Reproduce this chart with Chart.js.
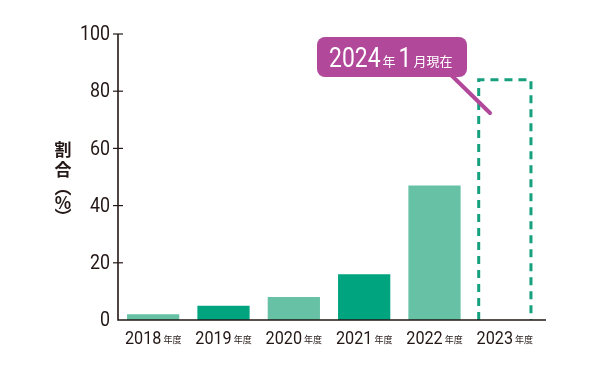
<!DOCTYPE html>
<html>
<head>
<meta charset="utf-8">
<script src="https://cdn.jsdelivr.net/npm/chart.js@4"></script>
<style>
  html, body { margin: 0; padding: 0; background: #fff; }
  #wrap { width: 600px; height: 371px; }
</style>
</head>
<body>
<div id="wrap"><canvas id="chart" width="600" height="371"></canvas></div>
<script>
const years = ['2018', '2019', '2020', '2021', '2022', '2023'];
const yearSuffix = '年度';
const shares = [2, 5, 8, 16, 47, 84];
const yTicks = [0, 20, 40, 60, 80, 100];
const yTitle = ['割', '合', '︵', '%', '︶'];
const note = [['2024', 'big'], ['年', 'small'], ['1', 'big'], ['月現在', 'small']];

const LIGHT = '#67c2a5';
const DARK = '#00a580';
const DASH = '#16a07e';
const INK = '#231815';
const MAGENTA = '#b1489a';
const numFont = "Roboto, sans-serif";

const barColors = shares.map((v, i) => i === shares.length - 1 ? 'rgba(0,0,0,0)' : (i % 2 === 0 ? LIGHT : DARK));

// draw text squeezed horizontally so it looks like the condensed face in the original
function narrowText(ctx, txt, x, y, sx) {
    ctx.save();
    ctx.translate(x, y);
    ctx.scale(sx, 1);
    ctx.fillText(txt, 0, 0);
    ctx.restore();
}

const decorations = {
    id: 'decorations',
    afterDatasetsDraw(chart) {
        const ctx = chart.ctx;
        const x = chart.scales.x;
        const y = chart.scales.y;
        const area = chart.chartArea;
        ctx.save();

        // dashed outline for the last (pending) year
        const meta = chart.getDatasetMeta(0);
        const last = meta.data[meta.data.length - 1];
        const half = last.width / 2;
        ctx.strokeStyle = DASH;
        ctx.lineWidth = 3;
        ctx.setLineDash([8, 6]);
        ctx.beginPath();
        ctx.moveTo(last.x - half, last.base);
        ctx.lineTo(last.x - half, last.y);
        ctx.lineTo(last.x + half, last.y);
        ctx.lineTo(last.x + half, last.base);
        ctx.stroke();
        ctx.setLineDash([]);

        // axes
        ctx.strokeStyle = INK;
        ctx.lineWidth = 1.6;
        ctx.beginPath();
        ctx.moveTo(area.left, y.getPixelForValue(100));
        ctx.lineTo(area.left, area.bottom);
        ctx.lineTo(area.right + 6, area.bottom);
        ctx.stroke();
        ctx.lineWidth = 1.2;
        ctx.fillStyle = INK;
        ctx.textBaseline = 'middle';
        yTicks.forEach(t => {
            const py = y.getPixelForValue(t);
            if (t !== 0) {
                ctx.beginPath();
                ctx.moveTo(area.left - 5, py);
                ctx.lineTo(area.left + 5, py);
                ctx.stroke();
            }
            ctx.font = '21px ' + numFont;
            const w = ctx.measureText(String(t)).width * 0.85;
            narrowText(ctx, String(t), area.left - 8 - w, py + 1, 0.85);
        });

        // x labels with small suffix
        ctx.textBaseline = 'alphabetic';
        years.forEach((yr, i) => {
            ctx.font = '18px ' + numFont;
            const w1 = ctx.measureText(yr).width * 0.9;
            ctx.font = "9px 'Noto Sans CJK JP', sans-serif";
            const w2 = ctx.measureText(yearSuffix).width;
            const cx = x.getPixelForValue(i);
            const start = cx - (w1 + 2 + w2) / 2;
            ctx.font = '18px ' + numFont;
            narrowText(ctx, yr, start, 344, 0.9);
            ctx.font = "9px 'Noto Sans CJK JP', sans-serif";
            ctx.fillText(yearSuffix, start + w1 + 2, 343);
        });

        // vertical y title
        ctx.font = "bold 17px 'Noto Sans CJK JP', sans-serif";
        ctx.textAlign = 'center';
        ctx.textBaseline = 'middle';
        const ys = [150, 170, 188, 203, 217];
        yTitle.forEach((ch, i) => ctx.fillText(ch, 63, ys[i]));

        // callout
        ctx.strokeStyle = MAGENTA;
        ctx.lineWidth = 4;
        ctx.lineCap = 'round';
        ctx.beginPath();
        ctx.moveTo(448, 72);
        ctx.lineTo(490, 113);
        ctx.stroke();
        ctx.fillStyle = MAGENTA;
        ctx.beginPath();
        ctx.roundRect(317, 37, 150, 40, 8);
        ctx.fill();
        ctx.fillStyle = '#fff';
        ctx.textAlign = 'left';
        ctx.textBaseline = 'alphabetic';
        let px = 329;
        note.forEach(([txt, kind]) => {
            if (kind === 'big') {
                ctx.font = '27px ' + numFont;
                narrowText(ctx, txt, px, 67, 0.85);
                px += ctx.measureText(txt).width * 0.85 + (txt.length === 1 ? 2 : 2);
            } else {
                ctx.font = "13px 'Noto Sans CJK JP', sans-serif";
                ctx.fillText(txt, px, 66);
                px += ctx.measureText(txt).width + 3;
            }
        });
        ctx.restore();
    }
};

new Chart(document.getElementById('chart'), {
    type: 'bar',
    data: {
        labels: years,
        datasets: [{
            data: shares,
            backgroundColor: barColors,
            borderWidth: 0,
            barPercentage: 0.743,
            categoryPercentage: 1
        }]
    },
    options: {
        responsive: false,
        animation: false,
        events: [],
        layout: { padding: { left: 0, right: 60, top: 34, bottom: 51 } },
        plugins: { legend: { display: false }, tooltip: { enabled: false } },
        scales: {
            x: {
                grid: { display: false },
                border: { display: false },
                ticks: { display: false },
                afterFit: s => { s.height = 0; }
            },
            y: {
                min: 0,
                max: 100,
                grid: { display: false },
                border: { display: false },
                ticks: { display: false, stepSize: 20 },
                afterFit: s => { s.width = 118; }
            }
        }
    },
    plugins: [decorations]
});
</script>
</body>
</html>
